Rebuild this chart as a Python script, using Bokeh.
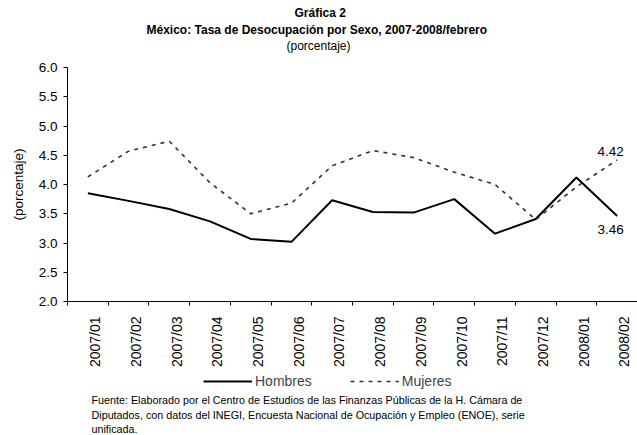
import numpy as np
from bokeh.plotting import figure
from bokeh.layouts import column
from bokeh.models import (Range1d, FixedTicker, Title, Label, Legend,
                          LegendItem, NumeralTickFormatter)
from bokeh.embed import file_html
from bokeh.resources import INLINE
from bokeh.core.properties import value

# ---------------- data ----------------
categories = ["2007/01", "2007/02", "2007/03", "2007/04", "2007/05", "2007/06",
              "2007/07", "2007/08", "2007/09", "2007/10", "2007/11", "2007/12",
              "2008/01", "2008/02"]
hombres = [3.85, 3.72, 3.58, 3.37, 3.07, 3.02, 3.73, 3.53, 3.52, 3.75, 3.16, 3.41, 4.12, 3.46]
mujeres = [4.13, 4.57, 4.74, 4.03, 3.50, 3.68, 4.32, 4.58, 4.46, 4.21, 4.00, 3.40, 3.96, 4.42]
y_ticks = [2.0, 2.5, 3.0, 3.5, 4.0, 4.5, 5.0, 5.5, 6.0]
series_names = ["Hombres", "Mujeres"]

title_1 = "Gráfica 2"
title_2 = "México: Tasa de Desocupación por Sexo, 2007-2008/febrero"
subtitle = "(porcentaje)"
y_label = "(porcentaje)"
footnote = [
    "Fuente: Elaborado por el Centro de Estudios de las Finanzas Públicas  de la H. Cámara de",
    "Diputados, con datos del INEGI, Encuesta Nacional de Ocupación y Empleo (ENOE), serie",
    "unificada.",
]

# ---------------- styles ----------------
FONT = "Liberation Sans"
W = 637
H1 = 370            # main chart
H2 = 435 - H1       # legend + source note
BL, BT, FH = 67, 66, 240
BB = H1 - BT - FH
n = len(categories)
xs = np.arange(n) + 0.5
H_STYLE = dict(line_color="black", line_width=2)
M_STYLE = dict(line_color="#333333", line_width=1.6, line_dash="4 5")

p = figure(width=W, height=H1, output_backend="svg", toolbar_location=None,
           x_range=Range1d(0, n), y_range=Range1d(y_ticks[0], y_ticks[-1]),
           min_border_left=BL, min_border_right=0, min_border_top=BT,
           min_border_bottom=BB)
p.outline_line_color = None
p.xgrid.visible = False
p.ygrid.visible = False
p.background_fill_color = "white"
p.border_fill_color = "white"

# x axis: labels (slightly right of centre), ticks at category boundaries
label_ticks = [round(i + 0.68, 2) for i in range(n)]
p.xaxis.ticker = FixedTicker(ticks=label_ticks, minor_ticks=list(range(n + 1)))
p.xaxis.major_label_overrides = {t: c for t, c in zip(label_ticks, categories)}
p.xaxis.major_tick_out = 0
p.xaxis.major_tick_in = 0
p.xaxis.minor_tick_out = 4
p.xaxis.minor_tick_in = 0
p.xaxis.minor_tick_line_color = "black"
p.xaxis.axis_line_color = "black"
p.xaxis.major_label_orientation = np.pi / 2
p.xaxis.major_label_standoff = 11
p.xaxis.major_label_text_font = FONT
p.xaxis.major_label_text_font_size = "14px"
p.xaxis.major_label_text_color = "black"

# y axis
p.yaxis.ticker = FixedTicker(ticks=y_ticks)
p.yaxis.formatter = NumeralTickFormatter(format="0.0")
p.yaxis.major_tick_out = 4
p.yaxis.major_tick_in = 0
p.yaxis.minor_tick_out = 0
p.yaxis.major_tick_line_color = "black"
p.yaxis.axis_line_color = "black"
p.yaxis.major_label_standoff = 6
p.yaxis.major_label_text_font = FONT
p.yaxis.major_label_text_font_size = "13.5px"
p.yaxis.major_label_text_color = "black"
p.yaxis.axis_label = y_label
p.yaxis.axis_label_standoff = 10
p.yaxis.axis_label_text_font = FONT
p.yaxis.axis_label_text_font_style = "normal"
p.yaxis.axis_label_text_font_size = "13.5px"
p.yaxis.axis_label_text_color = "black"

# series
p.line(xs, hombres, **H_STYLE)
p.line(xs, mujeres, **M_STYLE)

# data labels for the last value
p.text(x=[xs[-1]], y=[mujeres[-1]], text=[f"{mujeres[-1]:.2f}"],
       x_offset=-6.5, y_offset=-8, text_align="center", text_baseline="middle",
       text_font=value(FONT), text_font_size="13.5px", text_color="black")
p.text(x=[xs[-1]], y=[hombres[-1]], text=[f"{hombres[-1]:.2f}"],
       x_offset=-6.5, y_offset=13, text_align="center", text_baseline="middle",
       text_font=value(FONT), text_font_size="13.5px", text_color="black")


def ttl(text, size, style="normal", valign="top", standoff=0, offset=0):
    return Title(text=text, align="left", vertical_align=valign,
                 standoff=standoff, offset=offset, text_font=FONT,
                 text_font_size=size, text_font_style=style,
                 text_color="black")


# ---- above: stacked from the frame outward ----
p.add_layout(ttl(" ", "10px"), "above")                       # spacer
p.add_layout(ttl(subtitle, "12px", offset=219), "above")
p.add_layout(ttl(title_2, "12px", "bold", offset=79), "above")
p.add_layout(ttl(title_1, "12px", "bold", valign="bottom", standoff=5.5,
                 offset=227), "above")

# ---------------- legend + source strip ----------------
# (its frame is aligned with the chart's frame: page x = data x)
q = figure(width=W, height=H2, output_backend="svg", toolbar_location=None,
           x_range=Range1d(BL, W), y_range=Range1d(H2, 0),
           x_axis_location=None, y_axis_location=None,
           min_border=0, min_border_left=0, min_border_right=0,
           min_border_top=0, min_border_bottom=0)
q.outline_line_color = None
q.grid.visible = False
q.background_fill_color = "white"
q.border_fill_color = "white"

# legend proxies carrying the series' styles (no visible data)
nan = float("nan")
lh = q.line(x=[nan, nan], y=[nan, nan], **H_STYLE)
lm = q.line(x=[nan, nan], y=[nan, nan], **M_STYLE)
legend = Legend(items=[LegendItem(label=series_names[0], renderers=[lh]),
                       LegendItem(label=series_names[1], renderers=[lm])],
                location=(136, H2 - 19), orientation="horizontal", padding=0,
                margin=0, spacing=38, glyph_width=49, glyph_height=16,
                label_height=16, label_standoff=3, label_text_font=FONT,
                label_text_font_size="14px", border_line_alpha=0,
                background_fill_alpha=0)
q.add_layout(legend)

for txt, ypx in zip(footnote, [29, 44, 58]):
    q.add_layout(Label(x=91, y=ypx, text=txt, text_align="left",
                       text_baseline="middle", text_font=FONT,
                       text_font_size="10.75px", text_color="black"))

layout = column(p, q, spacing=0)
open("out.html", "w").write(file_html(layout, INLINE))
